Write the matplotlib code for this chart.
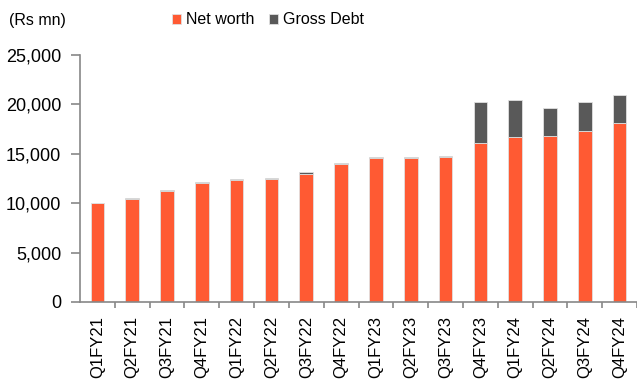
import matplotlib.pyplot as plt
import numpy as np

quarters = ['Q1FY21', 'Q2FY21', 'Q3FY21', 'Q4FY21', 'Q1FY22', 'Q2FY22', 'Q3FY22', 'Q4FY22',
            'Q1FY23', 'Q2FY23', 'Q3FY23', 'Q4FY23', 'Q1FY24', 'Q2FY24', 'Q3FY24', 'Q4FY24']
net_worth = [10000, 10450, 11250, 12000, 12300, 12400, 13000, 13980,
             14560, 14560, 14630, 16050, 16720, 16760, 17300, 18100]
gross_debt = [60, 90, 100, 110, 110, 110, 110, 70,
              100, 100, 120, 4150, 3750, 2900, 2900, 2870]
yticks = [0, 5000, 10000, 15000, 20000, 25000]

plt.rcParams['font.family'] = ['Liberation Sans', 'DejaVu Sans']

fig = plt.figure(figsize=(6.37, 3.85), dpi=100)
ax = fig.add_axes([80 / 637, (385 - 302) / 385, 557 / 637, (302 - 55) / 385])

x = np.arange(len(quarters))
ax.bar(x, net_worth, width=0.39, color='#FF5A33', edgecolor='#e0e0e0', linewidth=0.6,
       label='Net worth')
ax.bar(x, gross_debt, width=0.39, bottom=net_worth, color='#595959', edgecolor='#e0e0e0',
       linewidth=0.6, label='Gross Debt')

ax.set_xlim(-0.5, len(quarters) - 0.5)
ax.set_ylim(0, 25000)
ax.set_yticks(yticks)
ax.set_yticklabels([f'{v:,}' for v in yticks], fontsize=13)
ax.set_xticks(x)
ax.set_xticklabels(quarters, rotation=90, fontsize=12)
ax.set_xticks(np.arange(0.5, len(quarters), 1.0), minor=True)
ax.tick_params(axis='x', which='major', length=0, pad=10)
ax.tick_params(axis='x', which='minor', length=4, color='#888888', width=1.2)
ax.tick_params(axis='y', length=6.5, color='#888888', width=1.2, pad=7)

for s in ['top', 'right']:
    ax.spines[s].set_visible(False)
for s in ['left', 'bottom']:
    ax.spines[s].set_color('#888888')
    ax.spines[s].set_linewidth(1.2)

fig.text(9 / 637, 1 - 20 / 385, '(Rs mn)', fontsize=11.5, va='center', ha='left')
fig.legend(loc='center', bbox_to_anchor=(268 / 637, 1 - 20 / 385), ncol=2, frameon=False,
           fontsize=11.5, handlelength=0.6, handleheight=0.6, handletextpad=0.3,
           columnspacing=0.9, borderpad=0)

fig.savefig('out.png', dpi=100)
